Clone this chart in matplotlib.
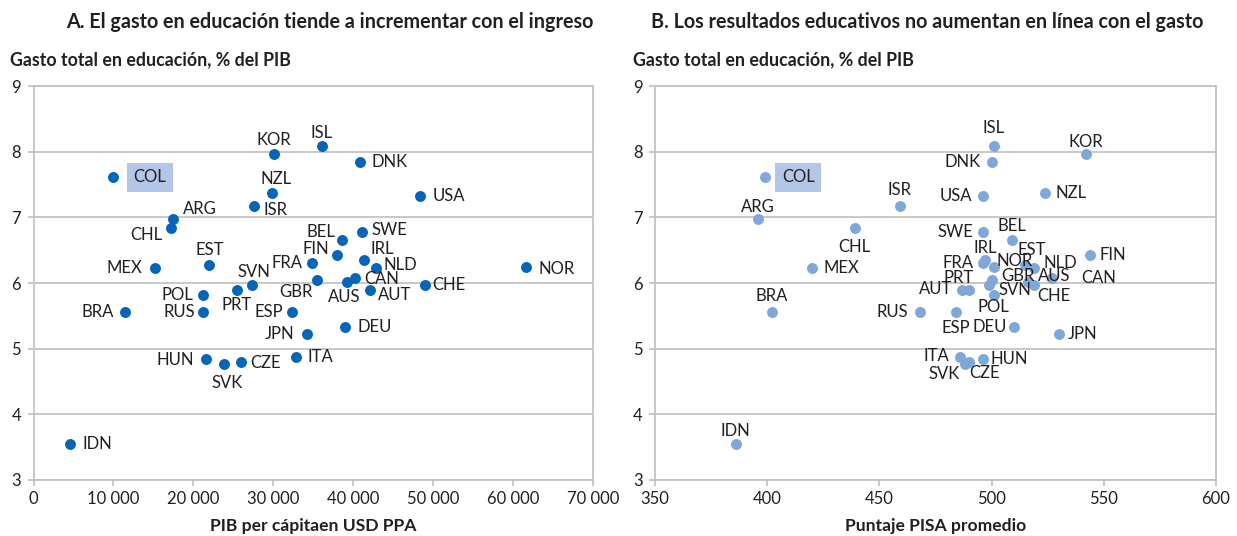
import matplotlib
matplotlib.use("Agg")
import matplotlib.pyplot as plt
from matplotlib.ticker import FuncFormatter

plt.rcParams['font.family'] = ['Lato', 'DejaVu Sans']

# ---------------- data ----------------
countries = ["COL", "KOR", "ISL", "DNK", "USA", "NZL", "ISR", "ARG", "CHL", "MEX",
             "EST", "FRA", "SVN", "PRT", "POL", "RUS", "BRA", "ESP", "JPN", "HUN",
             "SVK", "CZE", "ITA", "GBR", "BEL", "SWE", "FIN", "IRL", "NLD", "CAN",
             "AUS", "AUT", "CHE", "NOR", "DEU", "IDN"]

gasto = [7.61, 7.97, 8.08, 7.85, 7.33, 7.37, 7.18, 6.97, 6.84, 6.23,
         6.27, 6.31, 5.97, 5.89, 5.82, 5.56, 5.56, 5.56, 5.22, 4.84,
         4.77, 4.80, 4.88, 6.05, 6.66, 6.77, 6.43, 6.35, 6.23, 6.08,
         6.01, 5.89, 5.97, 6.24, 5.33, 3.55]

pib = [9900, 30100, 36100, 40900, 48400, 29800, 27600, 17500, 17200, 15200,
       21900, 34800, 27300, 25400, 21200, 21200, 11500, 32400, 34200, 21600,
       23800, 25900, 32900, 35500, 38600, 41100, 38000, 41400, 42800, 40200,
       39200, 42100, 49000, 61600, 39000, 4600]

pisa = [399, 542, 501, 500, 496, 524, 459, 396, 439, 420,
        515, 496, 499, 490, 501, 468, 402, 484, 530, 496,
        488, 490, 486, 500, 509, 496, 544, 497, 519, 527,
        516, 487, 519, 501, 510, 386]

title_a = "A. El gasto en educación tiende a incrementar con el ingreso"
title_b = "B. Los resultados educativos no aumentan en línea con el gasto"
ylabel = "Gasto total en educación, % del PIB"
xlabel_a = "PIB per cápitaen USD PPA"
xlabel_b = "Puntaje PISA promedio"
highlight = "COL"

# ---------------- label placement (style): pixel offsets (dx, dy up), horizontal alignment ----------------
pos_a = {
    "COL": (21, 0, 'left'), "KOR": (0, 14, 'center'), "ISL": (0, 13, 'center'),
    "DNK": (11, 0, 'left'), "USA": (12, 0, 'left'), "NZL": (4, 14, 'center'),
    "ISR": (9, -4, 'left'), "ARG": (10, 10, 'left'), "CHL": (-9, -7, 'right'),
    "MEX": (-13, 0, 'right'), "EST": (1, 15, 'center'), "FRA": (-9, 0, 'right'),
    "SVN": (2, 13, 'center'), "PRT": (0, -15, 'center'), "POL": (-10, 0, 'right'),
    "RUS": (-8, 0, 'right'), "BRA": (-12, 0, 'right'), "ESP": (-9, 0, 'right'),
    "JPN": (-12, 0, 'right'), "HUN": (-12, -1, 'right'), "SVK": (3, -19, 'center'),
    "CZE": (10, -1, 'left'), "ITA": (11, 0, 'left'), "GBR": (-5, -12, 'right'),
    "BEL": (-7, 8, 'right'), "SWE": (9, 2, 'left'), "FIN": (-8, 6, 'right'),
    "IRL": (6, 11, 'left'), "NLD": (8, 3, 'left'), "CAN": (9, -1, 'left'),
    "AUS": (-3, -15, 'center'), "AUT": (8, -5, 'left'), "CHE": (7, 0, 'left'),
    "NOR": (13, -2, 'left'), "DEU": (12, 0, 'left'), "IDN": (12, 0, 'left'),
}

pos_b = {
    "COL": (17, 0, 'left'), "KOR": (0, 12, 'center'), "ISL": (0, 18, 'center'),
    "DNK": (-11, 0, 'right'), "USA": (-10, 0, 'right'), "NZL": (10, 0, 'left'),
    "ISR": (0, 16, 'center'), "ARG": (0, 12, 'center'), "CHL": (0, -19, 'center'),
    "MEX": (11, 0, 'left'), "EST": (6, 15, 'center'), "FRA": (-9, 0, 'right'),
    "SVN": (9, -5, 'left'), "PRT": (5, 12, 'right'), "POL": (0, -12, 'center'),
    "RUS": (-12, 0, 'right'), "BRA": (0, 16, 'center'), "ESP": (0, -16, 'center'),
    "JPN": (9, 0, 'left'), "HUN": (8, 0, 'left'), "SVK": (-5, -10, 'right'),
    "CZE": (15, -11, 'center'), "ITA": (-11, 1, 'right'), "GBR": (10, 4, 'left'),
    "BEL": (0, 14, 'center'), "SWE": (-9, 0, 'right'), "FIN": (9, 0, 'left'),
    "IRL": (0, 12, 'center'), "NLD": (9, 5, 'left'), "CAN": (29, 0, 'left'),
    "AUS": (10, 6, 'left'), "AUT": (-10, 1, 'right'), "CHE": (3, -11, 'left'),
    "NOR": (3, 6, 'left'), "DEU": (-7, 0, 'right'), "IDN": (0, 13, 'center'),
}

text_color = "#231f20"
grid_color = "#bfbfbf"
c_a = "#0565b8"
c_b = "#7fa7d9"
box_color = "#b4c6e7"

fig = plt.figure(figsize=(12.37, 5.36), dpi=100)
W, H = 1237, 536
ax_a = fig.add_axes([33.5 / W, 56 / H, 559.5 / W, 394 / H])
ax_b = fig.add_axes([655 / W, 56 / H, 561 / W, 394 / H])


def style(ax, xlim, xticks, fmt):
    ax.set_xlim(*xlim)
    ax.set_ylim(3, 9)
    ax.set_xticks(xticks)
    ax.set_yticks(range(3, 10))
    ax.xaxis.set_major_formatter(FuncFormatter(fmt))
    ax.grid(axis='y', color=grid_color, linewidth=1.2)
    ax.set_axisbelow(True)
    for s in ax.spines.values():
        s.set_color(grid_color)
        s.set_linewidth(1.2)
    ax.tick_params(axis='both', colors=grid_color, labelcolor=text_color, labelsize=12,
                   length=4, width=1.2, direction='out')
    ax.tick_params(axis='y', pad=5)
    ax.tick_params(axis='x', pad=4)


def thousands(v, p):
    return "0" if v == 0 else f"{int(v):,}".replace(",", " ")


style(ax_a, (0, 70000), range(0, 70001, 10000), thousands)
style(ax_b, (350, 600), range(350, 601, 50), lambda v, p: f"{int(v)}")


def draw(ax, xs, color, pos):
    ax.scatter(xs, gasto, s=62, color=color, zorder=3, linewidths=0)
    for c, x, y in zip(countries, xs, gasto):
        dx, dy, ha = pos[c]
        kw = {}
        if c == highlight:
            kw['bbox'] = dict(boxstyle='square,pad=0.4', facecolor=box_color, edgecolor='none')
        ax.annotate(c, (x, y), xytext=(dx, dy), textcoords='offset pixels', ha=ha, va='center',
                    fontsize=12, color=text_color, zorder=4, **kw)


draw(ax_a, pib, c_a, pos_a)
draw(ax_b, pisa, c_b, pos_b)

for ax, title, xl, cx in ((ax_a, title_a, xlabel_a, 330), (ax_b, title_b, xlabel_b, 927)):
    fig.text(cx / W, 1 - 22 / H, title, ha='center', va='center', fontsize=14.2,
             fontweight='bold', color=text_color)
    ax.set_xlabel(xl, fontsize=12.6, fontweight='bold', color=text_color, labelpad=8)

fig.text(10 / W, 1 - 60 / H, ylabel, ha='left', va='center', fontsize=12.8,
         fontweight='bold', color=text_color)
fig.text(633 / W, 1 - 60 / H, ylabel, ha='left', va='center', fontsize=12.8,
         fontweight='bold', color=text_color)

fig.savefig("out.png", dpi=100, facecolor='white')
